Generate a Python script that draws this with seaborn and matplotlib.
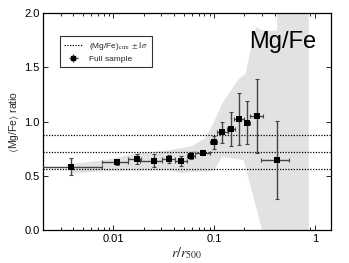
import numpy as np
import matplotlib
matplotlib.use("Agg")
import matplotlib.pyplot as plt
import seaborn as sns
from matplotlib.ticker import FixedLocator, FuncFormatter, LogLocator, NullFormatter

# ----------------------------------------------------------------------
# Data
# ----------------------------------------------------------------------
r_mid = [0.0038, 0.0109, 0.0173, 0.0251, 0.0353, 0.0471, 0.0592, 0.0773,
         0.100, 0.121, 0.147, 0.178, 0.214, 0.265, 0.42]
r_lo = [0.0012, 0.0077, 0.0141, 0.0185, 0.0304, 0.041, 0.0538, 0.0648,
        0.0913, 0.108, 0.133, 0.159, 0.203, 0.227, 0.292]
r_hi = [0.0077, 0.0141, 0.0187, 0.0304, 0.041, 0.0538, 0.0648, 0.0913,
        0.1064, 0.136, 0.161, 0.200, 0.227, 0.303, 0.553]
ratio = [0.584, 0.625, 0.655, 0.637, 0.655, 0.637, 0.686, 0.713,
         0.81, 0.90, 0.93, 1.02, 0.99, 1.05, 0.646]
ratio_err = [0.08, 0.03, 0.045, 0.06, 0.04, 0.05, 0.03, 0.025,
             0.06, 0.10, 0.16, 0.24, 0.20, 0.34, 0.36]

core_mean = 0.72
core_sigma = 0.16

band_x = [0.0038, 0.0077, 0.017, 0.035, 0.047, 0.06, 0.08, 0.0913, 0.0984,
          0.115, 0.119, 0.174, 0.195, 0.203, 0.227, 0.261, 0.297, 0.418,
          0.418, 0.859]
band_hi = [0.615, 0.645, 0.71, 0.74, 0.76, 0.78, 0.85, 0.94, 1.0,
           1.14, 1.17, 1.40, 1.43, 1.445, 1.66, 1.875, 1.84, 1.84,
           2.1, 2.1]
band_lo = [0.525, 0.547, 0.553, 0.553, 0.53, 0.54, 0.545, 0.55, 0.55,
           0.66, 0.676, 0.655, 0.646, 0.587, 0.41, 0.20, 0.0, -0.1,
           -0.1, -0.1]

x_ticks = [0.01, 0.1, 1]
y_ticks = [0.0, 0.5, 1.0, 1.5, 2.0]

# ----------------------------------------------------------------------
# Style
# ----------------------------------------------------------------------
sns.set_theme(style="ticks")
plt.rcParams['font.family'] = ['Liberation Sans', 'DejaVu Sans']
plt.rcParams['mathtext.fontset'] = 'stix'
plt.rcParams['xtick.direction'] = 'in'
plt.rcParams['ytick.direction'] = 'in'

fig = plt.figure(figsize=(3.49, 2.63), dpi=100)
ax = fig.add_axes([0.123, 0.125, 0.825, 0.826])

ax.fill_between(band_x, band_lo, band_hi, color='#e2e2e2', linewidth=0, zorder=1)

core_lines = [core_mean - core_sigma, core_mean, core_mean + core_sigma]
for i, yv in enumerate(core_lines):
    ax.axhline(yv, color='black', linestyle=(0, (1, 1.2)), linewidth=0.9,
               zorder=2, label=r'(Mg/Fe)$_{\rm core}$ $\pm1\sigma$' if i == 0 else None)

r_mid_a = np.array(r_mid)
xerr = [r_mid_a - np.array(r_lo), np.array(r_hi) - r_mid_a]
ax.errorbar(r_mid, ratio, xerr=xerr, yerr=ratio_err, fmt='none',
            ecolor='#444444', elinewidth=1.0, capsize=1.6, capthick=0.8, zorder=3)
sns.scatterplot(x=r_mid, y=ratio, marker='s', color='black', s=16,
                edgecolor='black', linewidth=0, ax=ax, zorder=4)
# legend handle for the data
h_data = ax.errorbar([], [], xerr=[], yerr=[], fmt='s', color='black',
                     ecolor='#444444', markersize=3.5, elinewidth=1.0,
                     capsize=1.6, label='Full sample')

ax.set_xscale('log')
ax.set_xlim(0.002, 1.44)
ax.set_ylim(0, 2.0)
ax.xaxis.set_major_locator(FixedLocator(x_ticks))
ax.xaxis.set_major_formatter(FuncFormatter(lambda v, p: f'{v:g}'))
ax.xaxis.set_minor_locator(LogLocator(base=10, subs=np.arange(2, 10)))
ax.xaxis.set_minor_formatter(NullFormatter())
ax.set_yticks(y_ticks)
ax.set_yticklabels([f'{v:.1f}' for v in y_ticks])
ax.tick_params(which='both', top=True, right=True, labelsize=8, width=0.6,
               pad=2.5, colors='black')
ax.tick_params(which='major', length=3.5)
ax.tick_params(which='minor', length=2)
for s in ax.spines.values():
    s.set_linewidth(0.9)
    s.set_color('black')

ax.set_xlabel(r'$r/r_{500}$', fontsize=10, labelpad=1)
ax.set_ylabel(r'$\langle$Mg/Fe$\rangle$ ratio', fontsize=7.5, labelpad=2)

ax.text(0.951, 0.866, 'Mg/Fe', transform=ax.transAxes, ha='right', va='center',
        fontsize=17, color='black')

handles, labels = ax.get_legend_handles_labels()
leg = ax.legend(handles=[handles[0], h_data], labels=[labels[0], 'Full sample'],
                loc='upper left', bbox_to_anchor=(0.045, 0.915), fontsize=6,
                frameon=True, fancybox=False, edgecolor='black',
                borderpad=0.5, handlelength=2.2, labelspacing=0.4)
leg.get_frame().set_linewidth(0.8)

fig.savefig('out.png', dpi=100)
